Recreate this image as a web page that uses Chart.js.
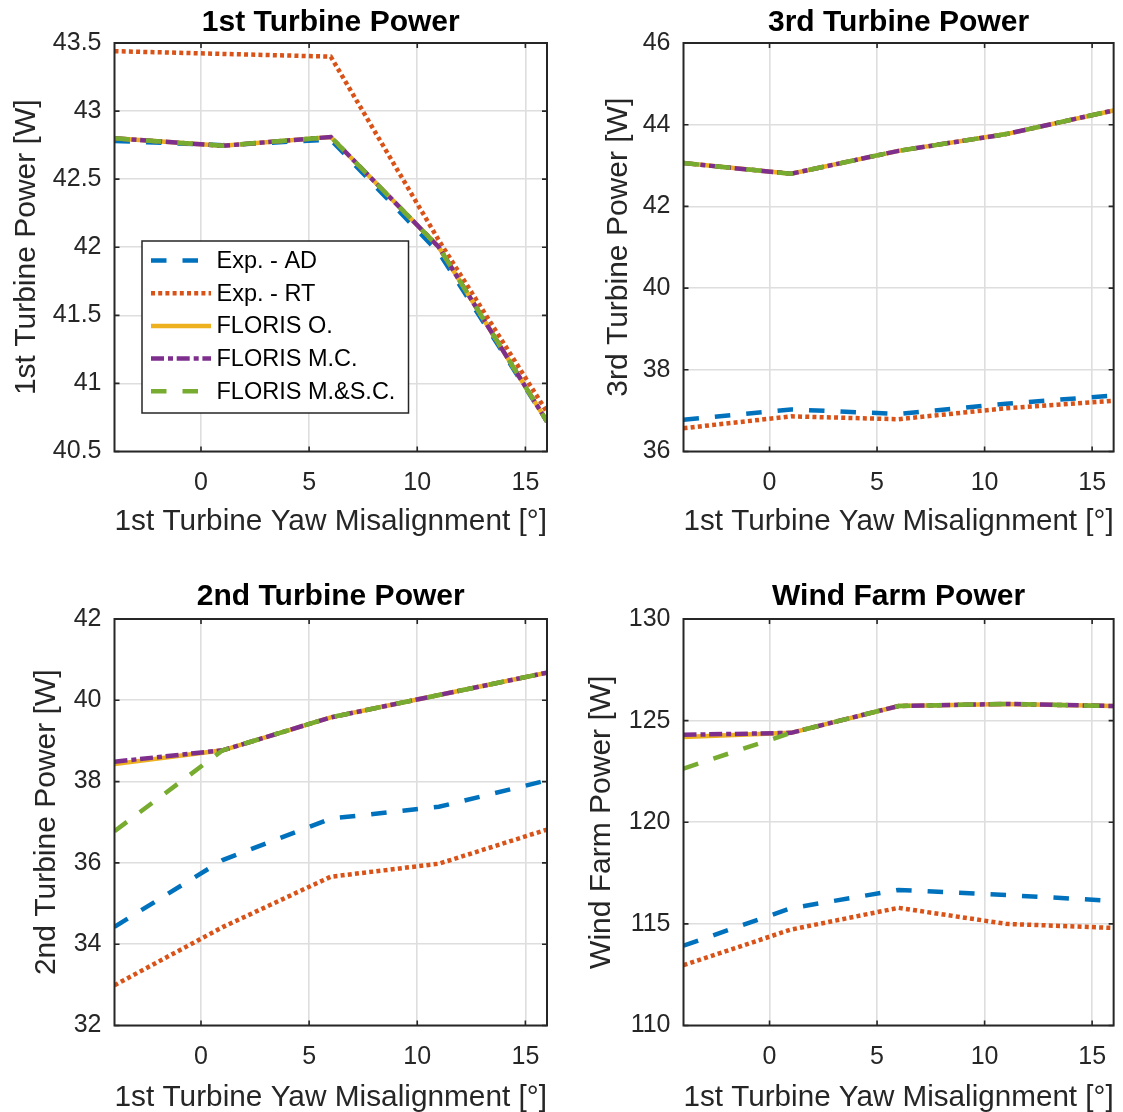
<!DOCTYPE html>
<html>
<head>
<meta charset="utf-8">
<title>Turbine power vs yaw misalignment</title>
<script src="https://cdn.jsdelivr.net/npm/chart.js@4.4.0/dist/chart.umd.min.js"></script>
<style>
html, body { margin: 0; padding: 0; background: #fff; overflow: hidden; }
canvas { position: absolute; }
</style>
</head>
<body>
<canvas id="c1"></canvas>
<canvas id="c3"></canvas>
<canvas id="c2"></canvas>
<canvas id="cwf"></canvas>
<script>
// yaw misalignment of the 1st turbine [deg]
const yaw = [-4, 1, 6, 11, 16];
const xTicks = [0, 5, 10, 15];

const seriesNames = ["Exp. - AD", "Exp. - RT", "FLORIS O.", "FLORIS M.C.", "FLORIS M.&S.C."];

// 1st turbine power [W]
const t1ExpAD = [42.78, 42.75, 42.79, 41.96, 40.72];
const t1ExpRT = [43.44, 43.42, 43.40, 42.05, 40.79];
const t1FlorisO = [42.80, 42.745, 42.81, 42.00, 40.72];
const t1FlorisMC = [42.80, 42.745, 42.81, 42.00, 40.72];
const t1FlorisMSC = [42.80, 42.745, 42.81, 42.00, 40.72];
const yTicks1 = [40.5, 41, 41.5, 42, 42.5, 43, 43.5];

// 3rd turbine power [W]
const t3ExpAD = [36.78, 37.03, 36.92, 37.17, 37.37];
const t3ExpRT = [36.57, 36.86, 36.79, 37.06, 37.24];
const t3FlorisO = [43.06, 42.80, 43.36, 43.77, 44.35];
const t3FlorisMC = [43.06, 42.80, 43.36, 43.77, 44.35];
const t3FlorisMSC = [43.06, 42.80, 43.36, 43.77, 44.35];
const yTicks3 = [36, 38, 40, 42, 44, 46];

// 2nd turbine power [W]
const t2ExpAD = [34.43, 36.07, 37.09, 37.38, 38.03];
const t2ExpRT = [32.99, 34.42, 35.66, 35.98, 36.82];
const t2FlorisO = [38.43, 38.77, 39.58, 40.13, 40.68];
const t2FlorisMC = [38.49, 38.77, 39.58, 40.13, 40.68];
const t2FlorisMSC = [36.78, 38.77, 39.58, 40.13, 40.68];
const yTicks2 = [32, 34, 36, 38, 40, 42];

// wind farm power [W]
const wfExpAD = [113.93, 115.77, 116.67, 116.42, 116.13];
const wfExpRT = [112.97, 114.72, 115.79, 115.00, 114.80];
const wfFlorisO = [124.20, 124.40, 125.72, 125.82, 125.72];
const wfFlorisMC = [124.30, 124.40, 125.72, 125.82, 125.72];
const wfFlorisMSC = [122.64, 124.40, 125.72, 125.82, 125.72];
const yTicksWF = [110, 115, 120, 125, 130];

const xTitle = "1st Turbine Yaw Misalignment [°]";

// styles (MATLAB default colour order)
const colors = ["#0072BD", "#D95319", "#EDB120", "#7E2F8E", "#77AC30"];
const dashes = [[15.5, 16], [4, 3.2], [], [13, 4, 5, 3.7], [15.5, 16]];
const FONT = "'Liberation Sans', Arial, sans-serif";
const INK = "#262626";
const GRID = "#dedede";
const LABEL_SIZE = 30;

// axes box + inward ticks like MATLAB
const framePlugin = {
  id: "frame",
  afterDraw(chart) {
    const {ctx, chartArea: a, scales} = chart;
    ctx.save();
    ctx.strokeStyle = INK;
    ctx.lineWidth = 1.6;
    ctx.beginPath();
    scales.x.ticks.forEach(t => {
      const px = scales.x.getPixelForValue(t.value);
      ctx.moveTo(px, a.bottom); ctx.lineTo(px, a.bottom - 5);
      ctx.moveTo(px, a.top); ctx.lineTo(px, a.top + 5);
    });
    scales.y.ticks.forEach(t => {
      const py = scales.y.getPixelForValue(t.value);
      ctx.moveTo(a.left, py); ctx.lineTo(a.left + 5, py);
      ctx.moveTo(a.right, py); ctx.lineTo(a.right - 5, py);
    });
    ctx.stroke();
    ctx.lineWidth = 2;
    ctx.strokeRect(a.left, a.top, a.right - a.left, a.bottom - a.top);
    ctx.restore();
  }
};

// legend box inside the first axes
const boxLegend = {
  id: "boxLegend",
  afterDraw(chart) {
    const {ctx, chartArea: a} = chart;
    const L = a.left + 27.5, T = a.top + 198, W = 266.5, H = 172;
    ctx.save();
    ctx.fillStyle = "#fff";
    ctx.fillRect(L, T, W, H);
    ctx.strokeStyle = INK;
    ctx.lineWidth = 1.5;
    ctx.strokeRect(L, T, W, H);
    chart.data.datasets.forEach((ds, i) => {
      const y = T + 19.5 + 32.7 * i;
      ctx.beginPath();
      ctx.setLineDash(ds.borderDash);
      ctx.strokeStyle = ds.borderColor;
      ctx.lineWidth = ds.borderWidth;
      ctx.moveTo(L + 9, y);
      ctx.lineTo(L + 69, y);
      ctx.stroke();
      ctx.setLineDash([]);
      ctx.fillStyle = "#000";
      ctx.font = "23.5px " + FONT;
      ctx.textBaseline = "middle";
      ctx.textAlign = "left";
      ctx.fillText(ds.label, L + 74.5, y + 1);
    });
    ctx.restore();
  }
};

function panel(p) {
  const cv = document.getElementById(p.id);
  cv.width = p.box.w;
  cv.height = p.box.h;
  cv.style.left = p.box.x + "px";
  cv.style.top = p.box.y + "px";
  const half = LABEL_SIZE * 1.2 / 2;
  const padTop = p.titleY - p.box.y - half;
  return new Chart(cv, {
    type: "line",
    data: {
      datasets: p.series.map((vals, i) => ({
        label: seriesNames[i],
        data: yaw.map((x, k) => ({x: x, y: vals[k]})),
        borderColor: colors[i],
        borderDash: dashes[i],
        borderWidth: 4.5,
        pointRadius: 0,
        fill: false,
        tension: 0,
        order: 4 - i
      }))
    },
    options: {
      responsive: false,
      animation: false,
      devicePixelRatio: 1,
      layout: {padding: {left: 0, top: padTop, right: p.box.x + p.box.w - p.area.right, bottom: 0}},
      plugins: {
        legend: {display: false},
        tooltip: {enabled: false},
        title: {
          display: true,
          text: p.title,
          fullSize: false,
          color: "#000",
          font: {family: FONT, size: LABEL_SIZE, weight: "bold", lineHeight: 1.2},
          padding: {top: 0, bottom: p.area.top - p.box.y - padTop - 2 * half}
        }
      },
      scales: {
        x: {
          type: "linear",
          min: -4,
          max: 16,
          afterBuildTicks: s => { s.ticks = xTicks.map(v => ({value: v})); },
          afterFit: s => { s.height = p.box.y + p.box.h - p.area.bottom; },
          grid: {color: GRID, lineWidth: 1.6, drawTicks: false},
          border: {display: false},
          ticks: {color: INK, font: {family: FONT, size: 25}, padding: 16.5, maxRotation: 0, autoSkip: false},
          title: {
            display: true,
            text: xTitle,
            color: INK,
            font: {family: FONT, size: LABEL_SIZE, lineHeight: 1},
            padding: {top: 0, bottom: p.box.y + p.box.h - p.xLabelY - LABEL_SIZE / 2}
          }
        },
        y: {
          type: "linear",
          min: p.yTicks[0],
          max: p.yTicks[p.yTicks.length - 1],
          afterBuildTicks: s => { s.ticks = p.yTicks.map(v => ({value: v})); },
          afterFit: s => { s.width = p.area.left - p.box.x; },
          grid: {color: GRID, lineWidth: 1.6, drawTicks: false},
          border: {display: false},
          ticks: {color: INK, font: {family: FONT, size: 25}, padding: 13, autoSkip: false, callback: v => String(v)},
          title: {
            display: true,
            text: p.yTitle,
            color: INK,
            font: {family: FONT, size: LABEL_SIZE, lineHeight: 1},
            padding: {top: p.yLabelX - p.box.x - LABEL_SIZE / 2, bottom: 0}
          }
        }
      }
    },
    plugins: p.legend ? [framePlugin, boxLegend] : [framePlugin]
  });
}

panel({
  id: "c1", title: "1st Turbine Power", yTitle: "1st Turbine Power [W]",
  series: [t1ExpAD, t1ExpRT, t1FlorisO, t1FlorisMC, t1FlorisMSC], yTicks: yTicks1,
  box: {x: 0, y: 0, w: 561, h: 556},
  area: {left: 114.5, right: 547, top: 43, bottom: 451.5},
  titleY: 22.5, xLabelY: 522, yLabelX: 27, legend: true
});

panel({
  id: "c3", title: "3rd Turbine Power", yTitle: "3rd Turbine Power [W]",
  series: [t3ExpAD, t3ExpRT, t3FlorisO, t3FlorisMC, t3FlorisMSC], yTicks: yTicks3,
  box: {x: 561, y: 0, w: 562, h: 556},
  area: {left: 683.5, right: 1117.5, top: 43, bottom: 451.5},
  titleY: 22.5, xLabelY: 522, yLabelX: 618.5
});

panel({
  id: "c2", title: "2nd Turbine Power", yTitle: "2nd Turbine Power [W]",
  series: [t2ExpAD, t2ExpRT, t2FlorisO, t2FlorisMC, t2FlorisMSC], yTicks: yTicks2,
  box: {x: 0, y: 556, w: 561, h: 556},
  area: {left: 114.5, right: 547, top: 619, bottom: 1025.5},
  titleY: 596.5, xLabelY: 1097.5, yLabelX: 46.7
});

panel({
  id: "cwf", title: "Wind Farm Power", yTitle: "Wind Farm Power [W]",
  series: [wfExpAD, wfExpRT, wfFlorisO, wfFlorisMC, wfFlorisMSC], yTicks: yTicksWF,
  box: {x: 561, y: 556, w: 562, h: 556},
  area: {left: 683.5, right: 1117.5, top: 619, bottom: 1025.5},
  titleY: 596.5, xLabelY: 1097.5, yLabelX: 602
});
</script>
</body>
</html>
